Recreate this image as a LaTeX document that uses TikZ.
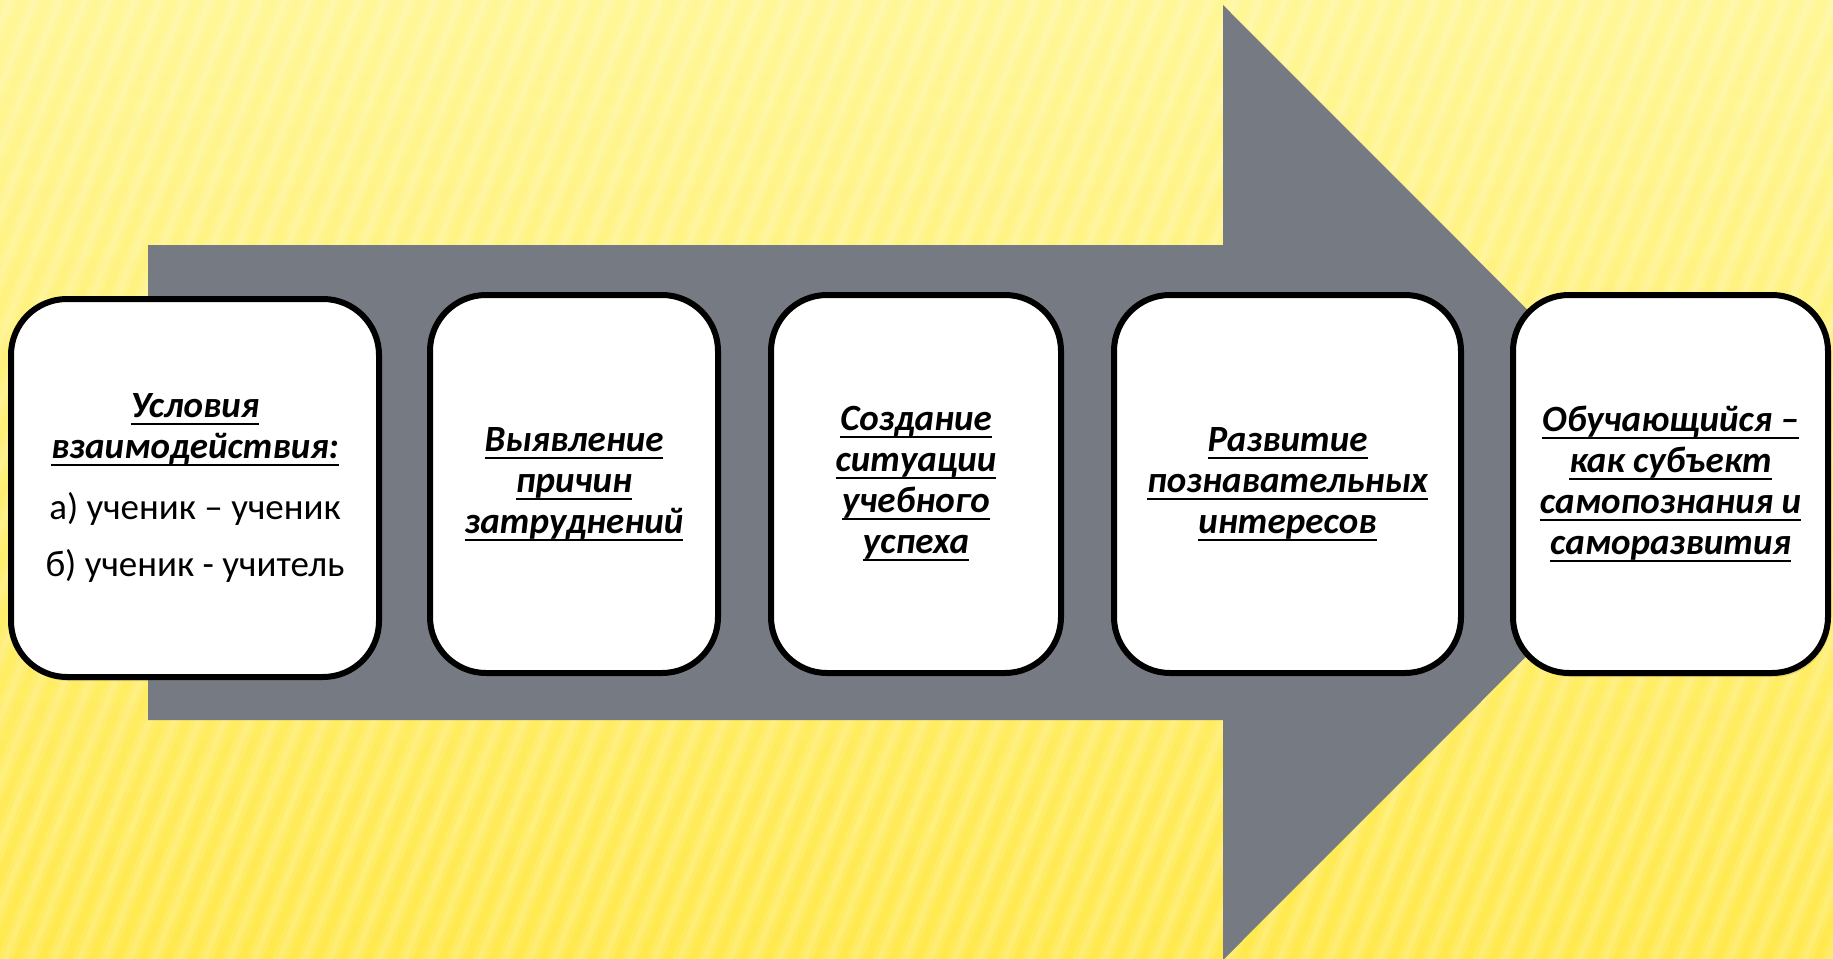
\documentclass[tikz,border=0pt]{standalone}
\usepackage{fontspec}
\setmainfont{Carlito}
\usetikzlibrary{shadows}

\definecolor{arrowgray}{RGB}{118,122,131}
\definecolor{bgtop}{RGB}{255,246,150}
\definecolor{bgbottom}{RGB}{255,233,78}

\newsavebox{\hdbox}
\newcommand{\hd}[1]{\sbox{\hdbox}{\bfseries\itshape #1}\rlap{\rule[-3.8pt]{\wd\hdbox}{1.1pt}}\usebox{\hdbox}}
\newcommand{\plain}[1]{{\fontsize{18.5}{20.5}\selectfont #1}}

\tikzset{
  stage/.style={draw=black, line width=3pt, fill=white, rounded corners=28pt,
    align=center, minimum height=189pt, font=\fontsize{18.5}{20.5}\selectfont,
    drop shadow={opacity=0.25, shadow xshift=1pt, shadow yshift=-2pt}},
}

\begin{document}
\begin{tikzpicture}[x=0.5pt, y=-0.5pt]
    \useasboundingbox (0,0) rectangle (1833,959);

    % Background
    \shade[top color=bgtop, bottom color=bgbottom] (0,0) rectangle (1833,959);
    \begin{scope}
        \clip (0,0) rectangle (1833,959);
        \foreach \i in {-20,...,75} {
            \fill[white, opacity=0.10] ({\i*25-3},959) -- ({\i*25+13},959) -- ({\i*25+393},0) -- ({\i*25+377},0) -- cycle;
            \fill[white, opacity=0.12] ({\i*25+2},959) -- ({\i*25+8},959) -- ({\i*25+388},0) -- ({\i*25+382},0) -- cycle;
        }
    \end{scope}

    % Arrow
    \fill[arrowgray] (148,245) -- (1223,245) -- (1223,5) -- (1700,482.5)
        -- (1223,960) -- (1223,720) -- (148,720) -- cycle;

    % Stages
    \node[stage, minimum width=184pt] (cond) at (195,488)
        {\hd{Условия}\\ \hd{взаимодействия:}\\[10pt]
         \plain{а) ученик – ученик}\\[8pt] \plain{б) ученик - учитель}};
    \node[stage, minimum width=144pt] (cause) at (574,484)
        {\hd{Выявление}\\ \hd{причин}\\ \hd{затруднений}};
    \node[stage, minimum width=145pt] (success) at (916,484)
        {\hd{Создание}\\ \hd{ситуации}\\ \hd{учебного}\\ \hd{успеха}};
    \node[stage, minimum width=173.5pt] (interest) at (1287.5,484)
        {\hd{Развитие}\\ \hd{познавательных}\\ \hd{интересов}};
    \node[stage, minimum width=157.5pt] (subject) at (1670.5,484)
        {\hd{Обучающийся –}\\ \hd{как субъект}\\ \hd{самопознания и}\\ \hd{саморазвития}};

\end{tikzpicture}
\end{document}
